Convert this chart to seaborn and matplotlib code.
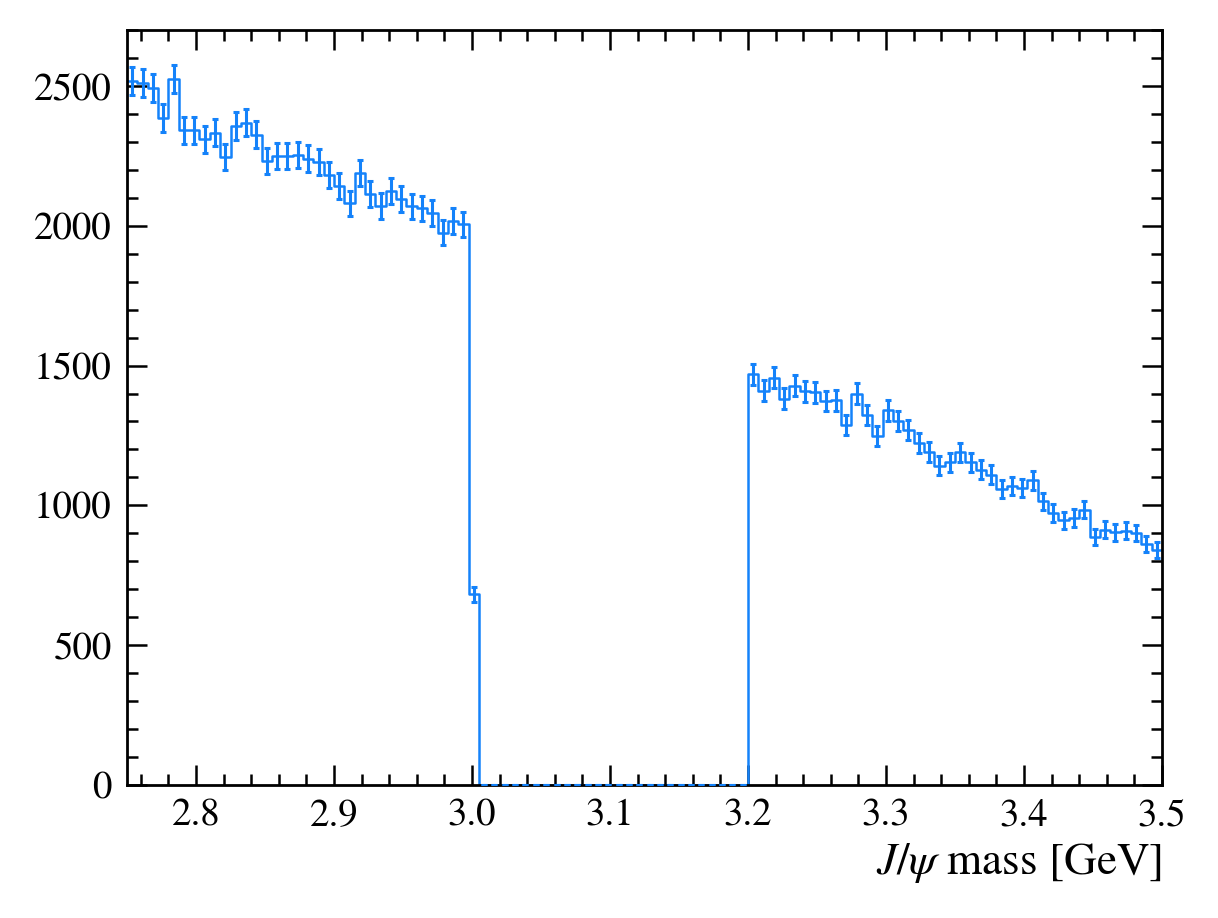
import numpy as np
import pandas as pd
import matplotlib
matplotlib.use("Agg")
import matplotlib.pyplot as plt
from matplotlib.ticker import MultipleLocator
import seaborn as sns

# histogram binning: 100 bins of 7.5 MeV between 2.75 and 3.5 GeV
bin_lo = 2.75
bin_hi = 3.5
n_bins = 100

# counts per bin (signal window 3.0-3.2 GeV is empty)
counts_left = [2517, 2510, 2492, 2385, 2524, 2342, 2342, 2310, 2333, 2245,
               2357, 2369, 2325, 2232, 2249, 2249, 2253, 2240, 2228, 2182,
               2143, 2080, 2188, 2113, 2070, 2124, 2096, 2069, 2062, 2046,
               1975, 2017, 2005, 682]
counts_gap = [0] * 26
counts_right = [1469, 1410, 1457, 1382, 1428, 1408, 1405, 1373, 1376, 1289,
                1400, 1322, 1248, 1340, 1301, 1268, 1223, 1191, 1142, 1154,
                1190, 1154, 1128, 1110, 1059, 1068, 1062, 1089, 1014, 973,
                946, 955, 985, 887, 913, 903, 909, 901, 862, 841]

xticks = [2.8, 2.9, 3.0, 3.1, 3.2, 3.3, 3.4, 3.5]
yticks = [0, 500, 1000, 1500, 2000, 2500]

edges = np.linspace(bin_lo, bin_hi, n_bins + 1)
centers = 0.5 * (edges[:-1] + edges[1:])
counts = np.array(counts_left + counts_gap + counts_right, dtype=float)
errors = np.sqrt(counts)  # Poisson uncertainty

df = pd.DataFrame({"mass": centers, "n": counts, "err": errors})

sns.set_theme(style="ticks")
plt.rcParams["font.family"] = ["STIXGeneral", "Liberation Serif", "DejaVu Serif"]
plt.rcParams["mathtext.fontset"] = "stix"
plt.rcParams["text.color"] = "black"
plt.rcParams["axes.labelcolor"] = "black"
plt.rcParams["xtick.color"] = "black"
plt.rcParams["ytick.color"] = "black"

COLOR = "#1482fa"

fig = plt.figure(figsize=(6.09, 4.59), dpi=200)
ax = fig.add_axes([0.1043, 0.1449, 0.8497, 0.8224])

sns.histplot(data=df, x="mass", weights="n", bins=edges.tolist(), element="step",
             fill=False, color=COLOR, linewidth=0.9, ax=ax)
ax.errorbar(df["mass"], df["n"], yerr=df["err"], fmt="none", ecolor=COLOR,
            elinewidth=1.1, capsize=1.2, capthick=1.1, zorder=3)

ax.set_xlim(bin_lo, bin_hi)
ax.set_ylim(0, 2700)
ax.set_xticks(xticks)
ax.set_xticklabels([f"{t:.1f}" for t in xticks])
ax.set_yticks(yticks)
ax.xaxis.set_minor_locator(MultipleLocator(0.02))
ax.yaxis.set_minor_locator(MultipleLocator(100))

ax.tick_params(which="both", direction="in", top=True, right=True,
               width=0.9, color="black", labelsize=14, labelcolor="black")
ax.tick_params(which="major", length=7.2)
ax.tick_params(which="minor", length=3.8)
ax.tick_params(axis="x", pad=5)
ax.tick_params(axis="y", pad=5.5)
for sp in ax.spines.values():
    sp.set_linewidth(1.0)
    sp.set_color("black")

ax.set_ylabel("")
ax.set_xlabel(r"$J/\psi$ mass [GeV]", fontsize=16.3, loc="right", labelpad=2.5)

fig.savefig("out.png", dpi=200)
